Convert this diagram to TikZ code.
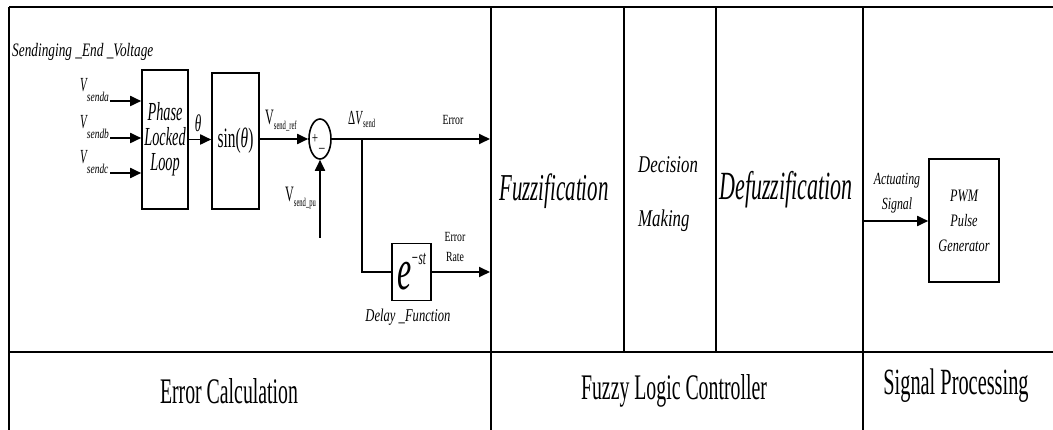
\documentclass[tikz,border=0pt]{standalone}
\usepackage{fontspec}
\setmainfont{Liberation Serif}
\newfontfamily\narrowfont{Liberation Serif}[FakeStretch=0.55]
\newfontfamily\midfont{Liberation Serif}[FakeStretch=0.7]
\usetikzlibrary{arrows.meta,shapes.geometric}
\newcommand{\fsz}[2]{\fontsize{#1}{#2}\selectfont}
% italic V with italic subscript
\newcommand{\vphase}[1]{{\narrowfont\fsz{20}{20}\itshape V}\raisebox{-10pt}{\midfont\fsz{13.5}{13.5}\itshape #1}}
% upright V with upright subscript
\newcommand{\vsend}[1]{{\narrowfont\fsz{22}{22}V}\raisebox{-4.5pt}{\narrowfont\fsz{12}{12}#1}}
\tikzset{
  frameline/.style={line width=1.8pt},
  blockbox/.style={draw,line width=1.6pt,inner sep=0pt},
  sig/.style={line width=1.8pt,-{Triangle[length=11pt,width=10pt]}},
  lbl/.style={inner sep=0pt}
}
\begin{document}
\begin{tikzpicture}[x=1pt,y=-1pt]
  \useasboundingbox (0,0) rectangle (1053,430);
  \clip (0,0) rectangle (1053,430);
  % table
  \draw[frameline] (9,7) -- (1070,7);
  \draw[frameline] (9,7) -- (9,450);
  \draw[frameline] (9,352) -- (1070,352);
  \foreach \colx in {491,863}{
    \draw[frameline] (\colx,7) -- (\colx,450);
  }
  \foreach \colx in {624,716}{
    \draw[frameline] (\colx,7) -- (\colx,352);
  }
  % error calculation
  \node[lbl,anchor=base west,font=\midfont\fsz{19}{19}\itshape] (title) at (12,57) {Sendinging \_End \_Voltage};
  \node[blockbox,minimum width=46pt,minimum height=139pt,align=center,
    font=\narrowfont\fsz{26}{25}\itshape] (pll) at (165,139.5) {Phase\\Locked\\Loop};
  \foreach \phs/\vy in {a/101,b/138,c/173}{
    \node[lbl,anchor=base west] (v\phs) at (80,\vy-9) {\vphase{send\phs}};
    \coordinate (in\phs) at (110,\vy);
    \draw[sig] (in\phs) -- (in\phs -| pll.west);
  }
  \node[blockbox,minimum width=47pt,minimum height=136pt,
    font=\narrowfont\fsz{28}{28}] (sine) at (235.5,141) {sin(\textit{θ})};
  \draw[sig] (pll.east) -- (pll.east -| sine.west);
  \node[lbl,font=\narrowfont\fsz{24}{24}\itshape] (theta) at (198,123) {θ};
  \node[draw,ellipse,line width=1.6pt,minimum width=22pt,minimum height=40pt,inner sep=0pt] (sum) at (320,139) {};
  \node[lbl,font=\midfont\fsz{16}{16}] (plus) at (315,139) {+};
  \node[lbl,font=\midfont\fsz{16}{16}] (minus) at (322,150) {–};
  \draw[sig] (sine.east |- sum.west) -- (sum.west);
  \node[lbl,anchor=base west] (vref) at (265,125) {\vsend{send\_ref}};
  \coordinate (pu) at (320,238);
  \draw[sig] (pu) -- (sum.south);
  \node[lbl,anchor=base west] (vpu) at (285,202) {\vsend{send\_pu}};
  \node[lbl,anchor=base west] (dv) at (348,125)
    {{\narrowfont\fsz{20}{20}Δ\textit{V}}\raisebox{-3pt}{\narrowfont\fsz{12}{12}send}};
  \coordinate (errin) at (490,139);
  \draw[sig] (sum.east) -- (errin);
  \node[lbl,font=\midfont\fsz{14}{14}] (err) at (453,120) {Error};
  \node[blockbox,minimum width=39pt,minimum height=57pt] (delay) at (411.5,272)
    {{\narrowfont\fsz{58}{58}\itshape e}\raisebox{25pt}{\narrowfont\fsz{20}{20}\itshape −st}};
  \coordinate (tap) at (362,139);
  \draw[line width=1.8pt] (tap) |- (delay.west);
  \coordinate (ratein) at (490,272);
  \draw[sig] (delay.east) -- (ratein);
  \node[lbl,align=center,font=\midfont\fsz{14}{20}] (rate) at (455,247) {Error\\Rate};
  \node[lbl,anchor=base,font=\midfont\fsz{18}{18}\itshape] (dlbl) at (408,322) {Delay \_Function};
  % fuzzy logic controller
  \node[lbl,anchor=base,font=\narrowfont\fsz{38}{38}\itshape] (fuzz) at (554,201) {Fuzzification};
  \node[lbl,anchor=base west,font=\midfont\fsz{24}{24}\itshape] (dec) at (638,173) {Decision};
  \node[lbl,anchor=base west,font=\midfont\fsz{24}{24}\itshape] (mak) at (638,227) {Making};
  \node[lbl,anchor=base,font=\narrowfont\fsz{40}{40}\itshape] (defuzz) at (786,200) {Defuzzification};
  % signal processing
  \node[blockbox,minimum width=70pt,minimum height=123pt,align=center,
    font=\midfont\fsz{17.5}{25}\itshape] (pwm) at (964,220.5) {PWM\\Pulse\\Generator};
  \coordinate (act) at (863,221);
  \draw[sig] (act) -- (act -| pwm.west);
  \node[lbl,align=center,font=\midfont\fsz{17}{25}\itshape] (actlbl) at (897,193) {Actuating\\Signal};
  % row titles
  \node[lbl,anchor=base,font=\narrowfont\fsz{36}{36}] (errcalc) at (229,403) {Error Calculation};
  \node[lbl,anchor=base,font=\narrowfont\fsz{36}{36}] (flc) at (674,400) {Fuzzy Logic Controller};
  \node[lbl,anchor=base,font=\narrowfont\fsz{37}{37}] (sigproc) at (956,395) {Signal Processing};
\end{tikzpicture}
\end{document}
